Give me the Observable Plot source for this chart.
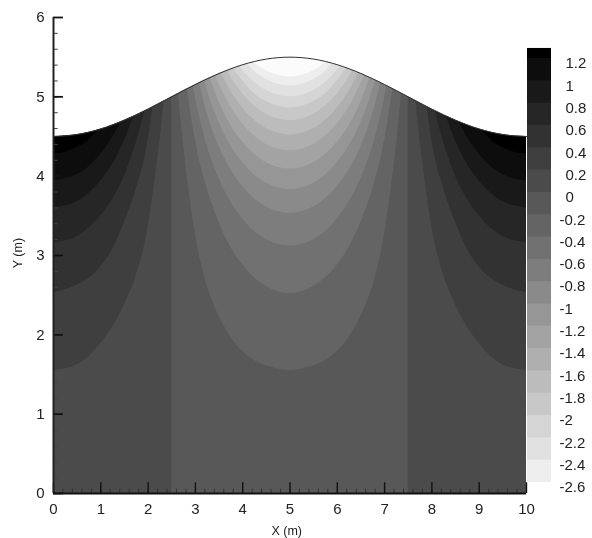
<!DOCTYPE html>
<html>
<head>
<meta charset="utf-8">
<script src="https://cdn.jsdelivr.net/npm/d3@7"></script>
<script src="https://cdn.jsdelivr.net/npm/@observablehq/plot@0.6"></script>
<style>
html,body{margin:0;padding:0;background:#fff;}
#wrap{position:relative;width:592px;height:538px;overflow:hidden;}
#wrap svg{position:absolute;left:0;top:0;background:transparent;filter:blur(0.7px);}
</style>
</head>
<body>
<div id="wrap"></div>
<script>
// Free surface
const surfaceX = [0,0.5,1,1.5,2,2.5,3,3.5,4,4.5,5,5.5,6,6.5,7,7.5,8,8.5,9,9.5,10];
const surfaceY = [4.5,4.524,4.595,4.706,4.845,5,5.155,5.294,5.405,5.476,5.5,5.476,5.405,5.294,5.155,5,4.845,4.706,4.595,4.524,4.5];

// Contour levels on the colour bar and the grey of each band (top band first)
const levelLabels = ["1.2","1","0.8","0.6","0.4","0.2","0","-0.2","-0.4","-0.6","-0.8","-1","-1.2","-1.4","-1.6","-1.8","-2","-2.2","-2.4","-2.6"];
const levelValues = [1.2,1,0.8,0.6,0.4,0.2,0,-0.2,-0.4,-0.6,-0.8,-1,-1.2,-1.4,-1.6,-1.8,-2,-2.2,-2.4,-2.6];
const bandGreys = ["#000000","#0d0d0d","#191919","#262626","#323232","#3f3f3f","#4b4b4b","#585858","#646464","#717171","#7d7d7d","#8a8a8a","#969696","#a3a3a3","#afafaf","#bcbcbc","#c8c8c8","#d5d5d5","#e1e1e1","#eeeeee","#fbfbfb"];

// Half-profiles of the contours: [distance from x=5, y]; bands 8..20
const centerContours = [
  [[0,1.55],[0.4,1.59],[0.84,1.71],[1.26,1.98],[1.55,2.3],[1.78,2.68],[1.98,3.2],[2.13,3.8],[2.27,4.5],[2.36,5.05]],
  [[0,2.52],[0.5,2.61],[1,2.88],[1.25,3.1],[1.5,3.42],[1.75,3.84],[2,4.45],[2.1,4.8],[2.17,5.1]],
  [[0,3.12],[0.5,3.2],[1,3.46],[1.5,3.97],[1.75,4.38],[2,4.99],[2.05,5.14]],
  [[0,3.53],[0.5,3.61],[1,3.87],[1.25,4.08],[1.5,4.375],[1.75,4.79],[1.92,5.18]],
  [[0,3.83],[0.5,3.91],[1,4.17],[1.25,4.38],[1.5,4.675],[1.75,5.087],[1.81,5.21]],
  [[0,4.09],[0.5,4.17],[1,4.43],[1.25,4.64],[1.5,4.935],[1.69,5.24]],
  [[0,4.32],[0.5,4.4],[1,4.66],[1.25,4.87],[1.5,5.165],[1.58,5.27]],
  [[0,4.52],[0.5,4.6],[1,4.86],[1.25,5.07],[1.4,5.238],[1.46,5.31]],
  [[0,4.7],[0.5,4.78],[1,5.04],[1.2,5.2],[1.33,5.335]],
  [[0,4.86],[0.5,4.94],[0.75,5.04],[1,5.2],[1.2,5.365]],
  [[0,5],[0.5,5.08],[0.75,5.18],[1,5.337],[1.07,5.39]],
  [[0,5.14],[0.5,5.22],[0.75,5.32],[0.91,5.42]],
  [[0,5.25],[0.3,5.28],[0.5,5.33],[0.77,5.44]]
];
// Half-profiles at the two side walls: [distance from the wall, y]; bands 5..0
const sideContours = [
  [[0,1.55],[0.5,1.62],[1,1.89],[1.2,2.05],[1.5,2.38],[1.75,2.75],[1.95,3.2],[2.1,3.75],[2.25,4.45],[2.34,4.95]],
  [[0,2.53],[0.36,2.59],[0.99,2.85],[1.27,3.1],[1.5,3.42],[1.75,3.84],[2,4.45],[2.1,4.87]],
  [[0,3.16],[0.5,3.24],[1,3.5],[1.25,3.71],[1.5,4],[1.75,4.42],[1.93,4.82]],
  [[0,3.6],[0.5,3.68],[1,3.94],[1.25,4.15],[1.5,4.445],[1.7,4.76]],
  [[0,3.94],[0.5,4.02],[0.75,4.12],[1,4.28],[1.25,4.49],[1.43,4.69]],
  [[0,4.28],[0.25,4.3],[0.5,4.36],[0.75,4.46],[0.95,4.585]]
];
const fullSpan = [0,10];
const middleBand = [2.5,7.5];
const xTickValues = [0,1,2,3,4,5,6,7,8,9,10];
const yTickValues = [0,1,2,3,4,5,6];
const minorStep = 0.2;

const surface = surfaceX.map((x,i)=>({x,y:surfaceY[i]}));
const bowlCenter = c => [...c.slice(1).reverse().map(([d,y])=>({x:5-d,y})), ...c.map(([d,y])=>({x:5+d,y}))];
const wallLeft = c => c.map(([d,y])=>({x:d,y}));
const wallRight = c => c.slice().reverse().map(([d,y])=>({x:10-d,y}));
const areaOpts = fill => ({x:"x",y1:"y",y2:6,fill,curve:"monotone-x"});

const minorX = d3.range(0,10+1e-9,minorStep);
const minorY = d3.range(0,6+1e-9,minorStep);

const main = Plot.plot({
  width:592,height:538,marginLeft:53,marginRight:66,marginTop:17,marginBottom:45,
  style:{fontFamily:"'Liberation Sans',Arial,sans-serif",fontSize:"15px",color:"#222",background:"transparent"},
  x:{domain:[0,10]},y:{domain:[0,6]},
  marks:[
    Plot.rect([0],{x1:fullSpan[0],x2:fullSpan[1],y1:0,y2:6,fill:bandGreys[6]}),
    Plot.rect([0],{x1:middleBand[0],x2:middleBand[1],y1:0,y2:6,fill:bandGreys[7]}),
    ...centerContours.map((c,i)=>Plot.areaY(bowlCenter(c),areaOpts(bandGreys[8+i]))),
    ...sideContours.map((c,i)=>Plot.areaY(wallLeft(c),areaOpts(bandGreys[5-i]))),
    ...sideContours.map((c,i)=>Plot.areaY(wallRight(c),areaOpts(bandGreys[5-i]))),
    Plot.areaY(surface,{x:"x",y1:"y",y2:6.1,fill:"white",curve:"monotone-x"}),
    Plot.line(surface,{x:"x",y:"y",stroke:"#333",strokeWidth:1,curve:"monotone-x"}),
    Plot.ruleX(minorX,{x:d=>d,y1:0,y2:0.055,stroke:"#333",strokeWidth:1}),
    Plot.ruleY(minorY,{y:d=>d,x1:0,x2:0.1,stroke:"#444",strokeWidth:1}),
    Plot.ruleX(xTickValues,{x:d=>d,y1:0,y2:0.135,stroke:"#111",strokeWidth:1.4}),
    Plot.ruleY(yTickValues,{y:d=>d,x1:0,x2:0.21,stroke:"#111",strokeWidth:1.8}),
    Plot.ruleX([0],{x:d=>d,y1:0,y2:6,stroke:"#222",strokeWidth:2}),
    Plot.ruleY([0],{y:d=>d,x1:0,x2:10,stroke:"#111",strokeWidth:2}),
    Plot.axisX({ticks:xTickValues,tickSize:0,tickPadding:10,label:null,tickFormat:d=>String(d)}),
    Plot.axisY({ticks:yTickValues,tickSize:0,tickPadding:9,label:null,tickFormat:d=>String(d)}),
    Plot.text(["X (m)"],{x:4.93,y:-0.47,text:d=>d,fontSize:12.5,fill:"#222"}),
    Plot.text(["Y (m)"],{x:-0.76,y:3.03,text:d=>d,fontSize:12.5,rotate:-90,fill:"#222"})
  ]
});

// Each band paints from its top edge down to the bottom of the bar, so no seams show
const bands = levelValues.map((v,i)=>({hi:i===0?1.29:levelValues[i-1],fill:bandGreys[i]}));
const labels = levelLabels.map((t,i)=>({t,v:levelValues[i]}));
const bar = Plot.plot({
  width:592,height:538,marginLeft:527,marginRight:41,marginTop:58,marginBottom:56,
  style:{fontFamily:"'Liberation Sans',Arial,sans-serif",fontSize:"15px",color:"#222",background:"transparent"},
  x:{domain:[0,1],axis:null},y:{domain:[-2.6,1.2],axis:null},
  marks:[
    Plot.rect(bands,{x1:0,x2:1,y1:-2.6,y2:"hi",fill:d=>d.fill}),
    Plot.text(labels.filter(d=>d.v>=0),{x:1,y:"v",text:"t",textAnchor:"start",dx:14,dy:5,fill:"#222",fontSize:15}),
    Plot.text(labels.filter(d=>d.v<0),{x:1,y:"v",text:"t",textAnchor:"start",dx:8,dy:5,fill:"#222",fontSize:15})
  ]
});
const wrap = document.getElementById("wrap");
wrap.appendChild(main);
wrap.appendChild(bar);
</script>
</body>
</html>
